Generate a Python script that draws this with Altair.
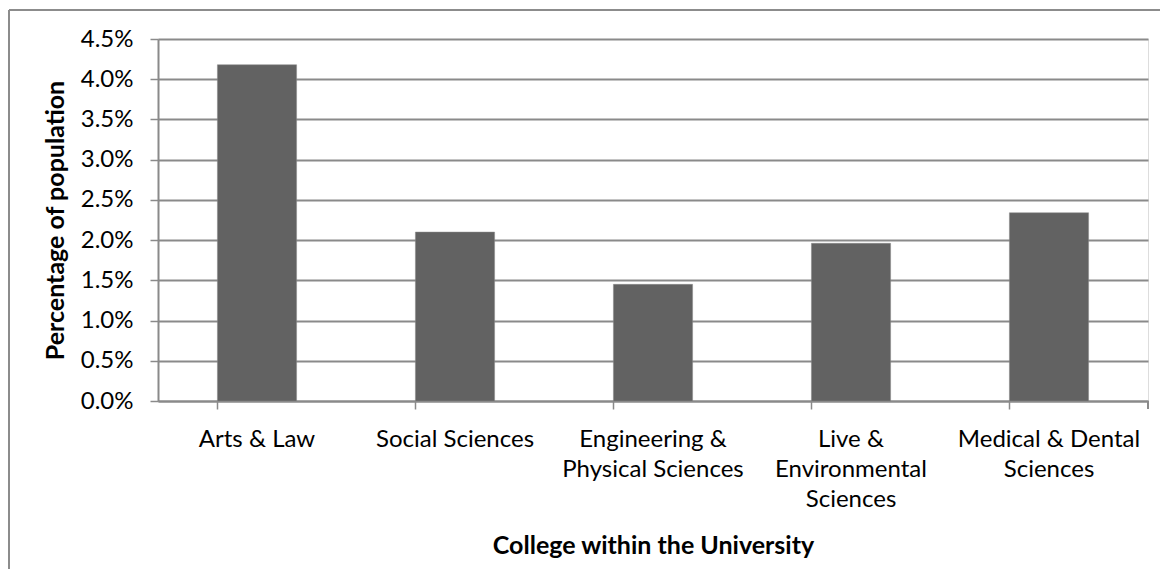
import altair as alt
import pandas as pd

colleges = ["Arts & Law", "Social Sciences", "Engineering & Physical Sciences",
            "Live & Environmental Sciences", "Medical & Dental Sciences"]
label_lines = [["Arts & Law"], ["Social Sciences"], ["Engineering &", "Physical Sciences"],
               ["Live &", "Environmental", "Sciences"], ["Medical & Dental", "Sciences"]]
percent = [0.0418, 0.0210, 0.0145, 0.0196, 0.0234]
y_ticks = [0, 0.005, 0.01, 0.015, 0.02, 0.025, 0.03, 0.035, 0.04, 0.045]

df = pd.DataFrame({"college": colleges, "pct": percent})

FONT = "Lato"
GRID = "#8a8a8a"
W, H = 990, 362

expr_parts = []
for name, lines in zip(colleges, label_lines):
    arr = "[" + ",".join("'" + l + "'" for l in lines) + "]"
    expr_parts.append(f"datum.label == '{name}' ? {arr}")
label_expr = " : ".join(expr_parts) + " : datum.label"

bars = alt.Chart(df).mark_bar(color="#626262", stroke="#8a8a8a", strokeWidth=0.5).encode(
    x=alt.X("college:N", sort=colleges,
            scale=alt.Scale(paddingInner=0.6, paddingOuter=0.3),
            axis=alt.Axis(title="College within the University", labelAngle=0,
                          labelExpr=label_expr, bandPosition=0, ticks=True,
                          tickSize=8, tickColor=GRID, tickWidth=1.5,
                          domainColor=GRID, domainWidth=2,
                          labelFont=FONT, labelFontSize=24, labelColor="#000000",
                          labelPadding=18, labelLineHeight=30, labelLimit=400,
                          labelOverlap=False,
                          titleFont=FONT, titleFontSize=25, titleFontWeight="bold",
                          titleColor="#000000", titlePadding=22, grid=False)),
    y=alt.Y("pct:Q", scale=alt.Scale(domain=[0, 0.045], nice=False),
            axis=alt.Axis(title="Percentage of population", format=".1%", values=y_ticks,
                          tickSize=8, tickColor=GRID, tickWidth=1.5,
                          domainColor=GRID, domainWidth=2,
                          gridColor=GRID, gridWidth=2,
                          labelFont=FONT, labelFontSize=24, labelColor="#000000",
                          labelPadding=17,
                          titleFont=FONT, titleFontSize=25, titleFontWeight="bold",
                          titleColor="#000000", titlePadding=12)),
)

end_tick = alt.Chart(df).mark_rule(color=GRID, strokeWidth=1.5).encode(
    x=alt.value(W), y=alt.value(H), y2=alt.value(H + 8))

border_left = alt.Chart(df).mark_rule(color="#8c8c8c", strokeWidth=2, clip=False).encode(
    x=alt.value(-149), y=alt.value(-29), y2=alt.value(H + 200))
border_top = alt.Chart(df).mark_rule(color="#8c8c8c", strokeWidth=2, clip=False).encode(
    x=alt.value(-149), x2=alt.value(W + 30), y=alt.value(-29))

chart = alt.layer(bars, end_tick, border_left, border_top).properties(
    width=W, height=H,
    autosize=alt.AutoSizeParams(type="none"),
    padding={"left": 150, "top": 31, "right": 12, "bottom": 168},
).configure_view(stroke=None).configure(background="#ffffff")

chart.save("out.html", embed_options={"renderer": "svg", "actions": False})
